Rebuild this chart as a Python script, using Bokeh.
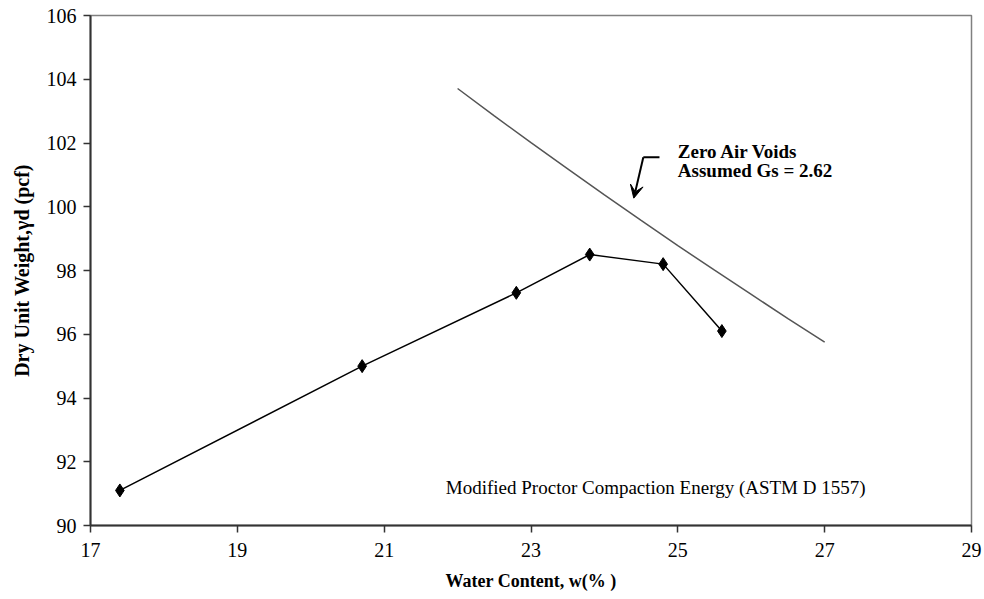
from bokeh.plotting import figure
from bokeh.models import Arrow, VeeHead, Range1d, FixedTicker, Label
from bokeh.embed import file_html
from bokeh.resources import INLINE

# Compaction test results
water_content = [17.4, 20.7, 22.8, 23.8, 24.8, 25.6]
dry_unit_weight = [91.1, 95.0, 97.3, 98.5, 98.2, 96.1]

# Zero air voids curve (Gs = 2.62)
zav_w = [22.0, 22.5, 23.0, 23.5, 24.0, 24.5, 25.0, 25.5, 26.0, 26.5, 27.0]
zav_gd = [103.71, 102.85, 102.01, 101.19, 100.37, 99.57, 98.78, 98.01, 97.25, 96.49, 95.75]

x_ticks = [17, 19, 21, 23, 25, 27, 29]
y_ticks = [90, 92, 94, 96, 98, 100, 102, 104, 106]

FONT = "'Liberation Serif', 'Times New Roman', serif"

p = figure(width=984, height=599, output_backend="svg", toolbar_location=None,
           x_range=Range1d(17, 29), y_range=Range1d(90, 106),
           min_border_left=90, min_border_right=13, min_border_top=15, min_border_bottom=74)
p.background_fill_color = "white"
p.border_fill_color = "white"
p.outline_line_color = "#808080"
p.outline_line_width = 1.5
p.grid.visible = False

for ax in (p.xaxis[0], p.yaxis[0]):
    ax.axis_line_color = "#333333"
    ax.axis_line_width = 2
    ax.major_tick_line_color = "#333333"
    ax.major_tick_line_width = 1.5
    ax.major_tick_in = 0
    ax.major_tick_out = 7
    ax.minor_tick_line_color = None
    ax.major_label_text_font = FONT
    ax.major_label_text_font_size = "20px"
    ax.major_label_text_color = "black"
    ax.axis_label_text_font = FONT
    ax.axis_label_text_font_style = "bold"
    ax.axis_label_text_color = "black"

p.xaxis.ticker = FixedTicker(ticks=x_ticks)
p.yaxis.ticker = FixedTicker(ticks=y_ticks)
p.xaxis.major_label_standoff = 10
p.yaxis.major_label_standoff = 7
p.xaxis.axis_label = "Water Content, w(% )"
p.xaxis.axis_label_text_font_size = "18px"
p.xaxis.axis_label_standoff = 11
p.yaxis.axis_label = "Dry Unit Weight,\u03b3d (pcf)"
p.yaxis.axis_label_text_font_size = "20px"
p.yaxis.axis_label_standoff = 11

# Zero air voids line
p.line(zav_w, zav_gd, line_color="#555555", line_width=1.5)

# Compaction curve
p.line(water_content, dry_unit_weight, line_color="black", line_width=1.5)
p.scatter(water_content, dry_unit_weight, marker="diamond", size=13,
          fill_color="black", line_color="black")

# Pointer to the zero air voids line
p.line([24.75, 24.53], [101.55, 101.55], line_color="black", line_width=2)
p.add_layout(Arrow(x_start=24.53, y_start=101.55, x_end=24.40, y_end=100.27,
                   line_color="black", line_width=2,
                   end=VeeHead(size=13, line_color="black", fill_color="black")))

p.add_layout(Label(x=25.0, y=101.39, text="Zero Air Voids", text_font=FONT,
                   text_font_size="19px", text_font_style="bold", text_color="black"))
p.add_layout(Label(x=25.0, y=100.82, text="Assumed Gs = 2.62", text_font=FONT,
                   text_font_size="19px", text_font_style="bold", text_color="black"))
p.add_layout(Label(x=21.84, y=90.85, text="Modified Proctor Compaction Energy (ASTM D 1557)",
                   text_font=FONT, text_font_size="19px", text_color="black"))

open("out.html", "w").write(file_html(p, INLINE))
